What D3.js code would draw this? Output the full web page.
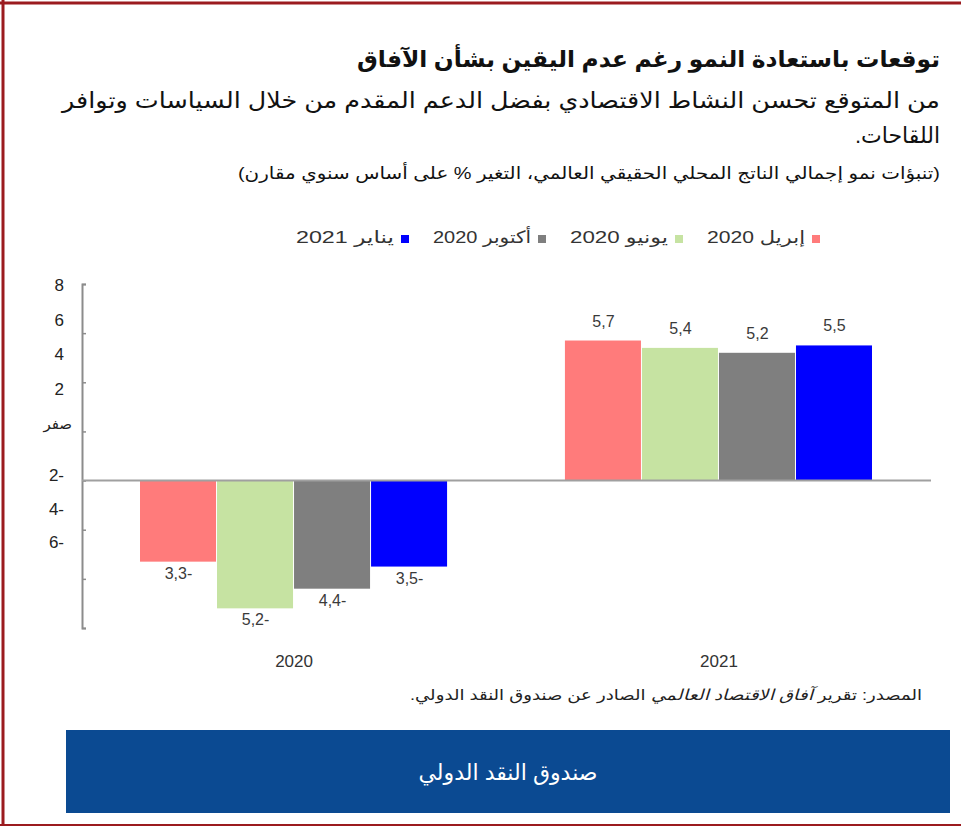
<!DOCTYPE html>
<html lang="ar">
<head>
<meta charset="UTF-8">
<title>توقعات النمو</title>
<script src="https://d3js.org/d3.v7.min.js"></script>
<style>
  body { margin: 0; background: #fff; }
  svg { display: block; font-family: "Liberation Sans", "DejaVu Sans", sans-serif; }
  .rtl { direction: rtl; unicode-bidi: embed; }
</style>
</head>
<body>
<div id="chart"></div>
<script>
// data
var years = ["2020", "2021"];
var series = ["إبريل 2020", "يونيو 2020", "أكتوبر 2020", "يناير 2021"];
var colors = ["#ff7b7b", "#c6e3a2", "#7f7f7f", "#0000ff"];
var values2020 = [-3.3, -5.2, -4.4, -3.5];
var values2021 = [5.7, 5.4, 5.2, 5.5];
var yTicks = [-6, -4, -2, 0, 2, 4, 6, 8];

var W = 961, H = 827;
var svg = d3.select("#chart").append("svg").attr("width", W).attr("height", H);

// frame
svg.append("line").attr("x1", 0).attr("x2", W).attr("y1", 3).attr("y2", 3).attr("stroke", "#9b1b1f").attr("stroke-width", 3);
svg.append("line").attr("x1", 3).attr("x2", 3).attr("y1", 0).attr("y2", 826).attr("stroke", "#9b1b1f").attr("stroke-width", 3);
svg.append("line").attr("x1", 0).attr("x2", W).attr("y1", 825).attr("y2", 825).attr("stroke", "#9b1b1f").attr("stroke-width", 2);

// titles (widths stretched to the original's Arial Arabic)
var titles = svg.append("g").attr("class", "rtl").attr("fill", "#111");
titles.append("text").attr("x", 940).attr("y", 67).attr("text-anchor", "start")
  .attr("font-size", 23).attr("font-weight", "bold")
  .attr("textLength", 583).attr("lengthAdjust", "spacingAndGlyphs")
  .text("توقعات باستعادة النمو رغم عدم اليقين بشأن الآفاق");
titles.append("text").attr("x", 940).attr("y", 108).attr("text-anchor", "start")
  .attr("font-size", 22)
  .attr("textLength", 878).attr("lengthAdjust", "spacingAndGlyphs")
  .text("من المتوقع تحسن النشاط الاقتصادي بفضل الدعم المقدم من خلال السياسات وتوافر");
titles.append("text").attr("x", 940).attr("y", 143).attr("text-anchor", "start")
  .attr("font-size", 22)
  .text("اللقاحات.");
titles.append("text").attr("x", 940).attr("y", 179).attr("text-anchor", "start")
  .attr("font-size", 17)
  .attr("textLength", 702).attr("lengthAdjust", "spacingAndGlyphs")
  .text("(تنبؤات نمو إجمالي الناتج المحلي الحقيقي العالمي، التغير % على أساس سنوي مقارن)");

// legend, laid out right to left
var legend = svg.append("g").attr("class", "rtl");
series.forEach(function (s, i) {
  var lx = 820 - i * 137;
  legend.append("rect").attr("x", lx - 8).attr("y", 235).attr("width", 8).attr("height", 8).attr("fill", colors[i]);
  legend.append("text").attr("x", lx - 15).attr("y", 243).attr("text-anchor", "start")
    .attr("font-size", 17).attr("fill", "#333")
    .attr("textLength", 98).attr("lengthAdjust", "spacingAndGlyphs").text(s);
});

// scales
var y = d3.scaleLinear().domain([-6, 8]).range([628, 284]);
var x0 = d3.scaleBand().domain(years).range([82, 931]).paddingInner(0.275).paddingOuter(0.1365);
var x1 = d3.scaleBand().domain(series).range([0, x0.bandwidth()]);

// y axis (ticks only, labels placed as in the original)
var yAxis = svg.append("g").attr("transform", "translate(82,0)")
  .call(d3.axisRight(y).tickValues(yTicks).tickSize(4).tickFormat(""));
yAxis.select(".domain").attr("stroke", "#8c8c8c").attr("stroke-width", 2);
yAxis.selectAll(".tick line").attr("stroke", "#8c8c8c").attr("stroke-width", 1.5);

var labelY = d3.scaleLinear().domain([-6, -2, 0, 8]).range([542, 475, 423, 285]);
svg.append("g").selectAll("text").data(yTicks).join("text")
  .attr("x", 64).attr("y", function (d) { return labelY(d) + 6; })
  .attr("text-anchor", "end").attr("font-size", 17).attr("fill", "#222")
  .text(function (d) { return d === 0 ? "صفر" : d < 0 ? Math.abs(d) + "-" : d; })
  .filter(function (d) { return d === 0; }).attr("font-size", 15).attr("x", 72);

// bars
var groups = [values2020, values2021];
var fmt = function (v) { return Math.abs(v).toFixed(1).replace(".", ",") + (v < 0 ? "-" : ""); };

years.forEach(function (yr, gi) {
  var g = svg.append("g").attr("transform", "translate(" + x0(yr) + ",0)");
  var data = groups[gi].map(function (v, i) { return { s: series[i], v: v, c: colors[i] }; });
  g.selectAll("rect").data(data).join("rect")
    .attr("x", function (d) { return x1(d.s); })
    .attr("width", x1.bandwidth() - 1)
    .attr("y", function (d) { return y(Math.max(0, d.v)); })
    .attr("height", function (d) { return Math.abs(y(d.v) - y(0)); })
    .attr("fill", function (d) { return d.c; });
  g.selectAll("text").data(data).join("text")
    .attr("x", function (d) { return x1(d.s) + x1.bandwidth() / 2; })
    .attr("y", function (d) { return d.v < 0 ? y(d.v) + 17 : y(d.v) - 14; })
    .attr("text-anchor", "middle").attr("font-size", 16).attr("fill", "#3a3a3a")
    .text(function (d) { return fmt(d.v); });
});

// zero line
svg.append("line").attr("x1", 82).attr("x2", 931).attr("y1", y(0)).attr("y2", y(0))
  .attr("stroke", "#a0a0a0").attr("stroke-width", 2);

// x labels
var xAxis = svg.append("g").attr("transform", "translate(0,664)")
  .call(d3.axisBottom(x0).tickSize(0));
xAxis.select(".domain").remove();
xAxis.selectAll("text").attr("font-size", 17).attr("fill", "#333").attr("font-family", "Liberation Sans, sans-serif").attr("dy", 0);

// source
var src = svg.append("text").attr("class", "rtl").attr("x", 922).attr("y", 700).attr("text-anchor", "start")
  .attr("font-size", 15).attr("fill", "#222")
  .attr("textLength", 512).attr("lengthAdjust", "spacingAndGlyphs");
src.append("tspan").text("المصدر: تقرير ");
src.append("tspan").attr("font-style", "italic").text("آفاق الاقتصاد العالمي");
src.append("tspan").text(" الصادر عن صندوق النقد الدولي.");

// footer band
svg.append("rect").attr("x", 66).attr("y", 730).attr("width", 884).attr("height", 83).attr("fill", "#0b4a92");
svg.append("text").attr("x", 508).attr("y", 780).attr("text-anchor", "middle")
  .attr("font-size", 22).attr("fill", "#fff").text("صندوق النقد الدولي");
</script>
</body>
</html>
